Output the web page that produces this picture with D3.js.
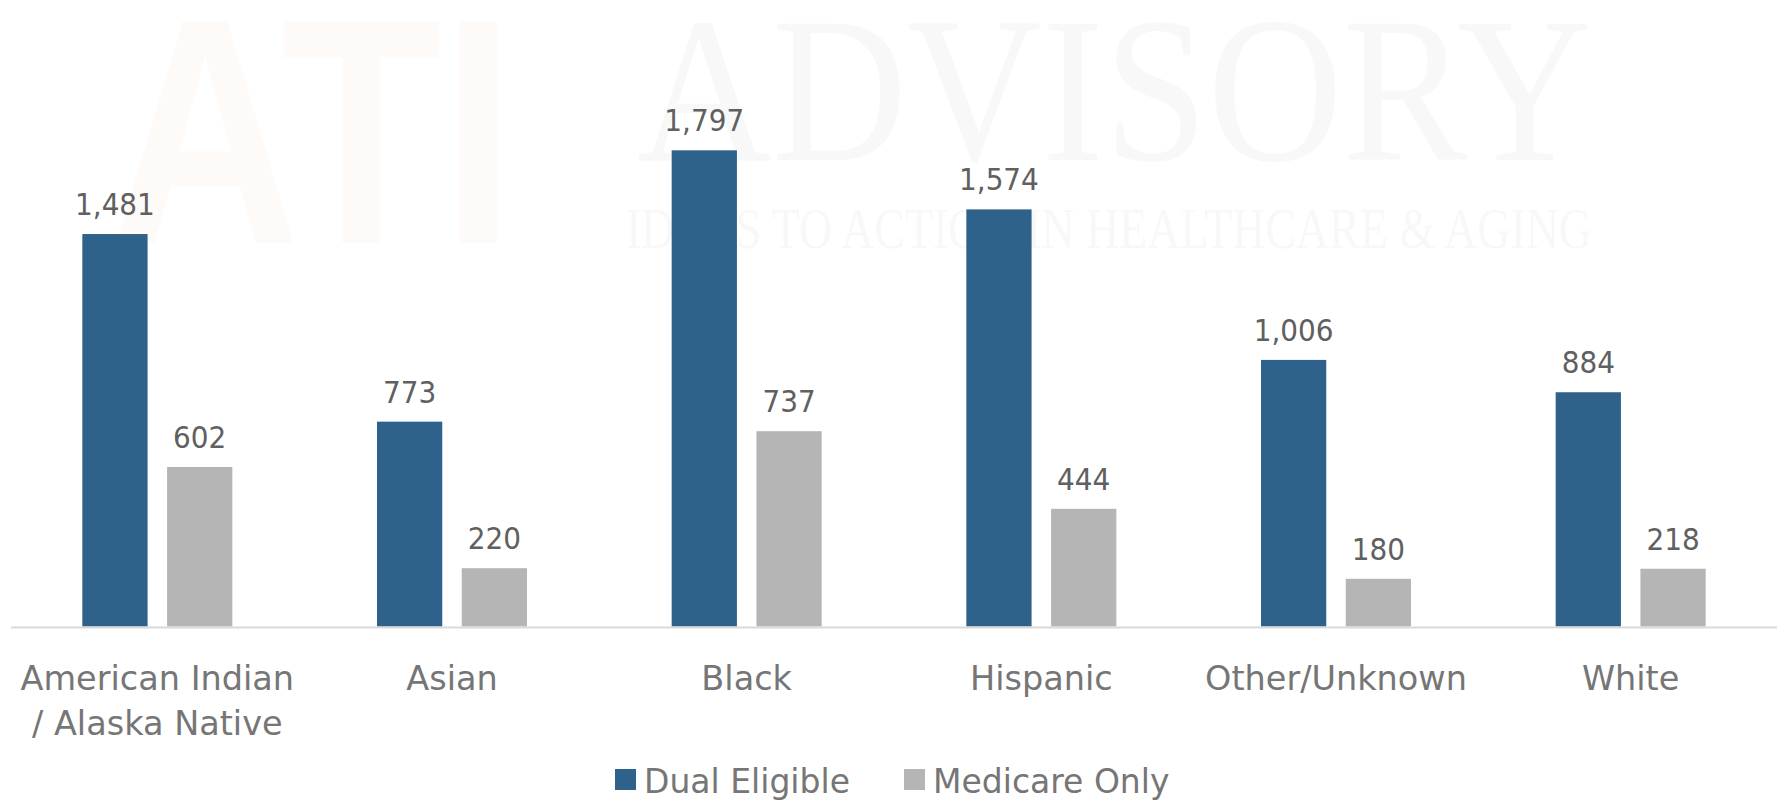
<!DOCTYPE html>
<html>
<head>
<meta charset="utf-8">
<script src="https://cdn.jsdelivr.net/npm/d3@7"></script>
<style>
  body { margin: 0; background: #fff; }
  svg { display: block; }
</style>
</head>
<body>
<svg id="chart" width="1783" height="802"></svg>
<script>
const width = 1783;
const height = 802;
const svg = d3.select("#chart");

// data
const categories = ["American Indian / Alaska Native", "Asian", "Black", "Hispanic", "Other/Unknown", "White"];
const categoryLines = [["American Indian", "/ Alaska Native"], ["Asian"], ["Black"], ["Hispanic"], ["Other/Unknown"], ["White"]];
const series = ["Dual Eligible", "Medicare Only"];
const dualEligible = [1481, 773, 1797, 1574, 1006, 884];
const medicareOnly = [602, 220, 737, 444, 180, 218];
const colors = ["#2f628b", "#b5b5b5"];

const rows = categories.map((c, i) => ({
  category: c,
  values: [
    { key: series[0], value: dualEligible[i] },
    { key: series[1], value: medicareOnly[i] }
  ]
}));

const baseline = 626.5;

// faint watermark
svg.append("text")
  .attr("x", 110).attr("y", 243)
  .attr("font-family", "Liberation Sans, Arial, sans-serif")
  .attr("font-weight", "bold")
  .attr("font-size", 322)
  .attr("textLength", 405)
  .attr("lengthAdjust", "spacingAndGlyphs")
  .attr("fill", "#fefaf8")
  .text("ATI");

svg.append("text")
  .attr("x", 637).attr("y", 160)
  .attr("font-family", "Liberation Serif, Times New Roman, serif")
  .attr("font-size", 207)
  .attr("textLength", 955)
  .attr("lengthAdjust", "spacingAndGlyphs")
  .attr("fill", "#f8f8f8")
  .text("ADVISORY");

svg.append("text")
  .attr("x", 626).attr("y", 248)
  .attr("font-family", "Liberation Serif, Times New Roman, serif")
  .attr("font-size", 57)
  .attr("textLength", 966)
  .attr("lengthAdjust", "spacingAndGlyphs")
  .attr("fill", "#f8f8f8")
  .text("IDEAS TO ACTION IN HEALTHCARE & AGING");

const x0 = d3.scaleBand()
  .domain(categories)
  .range([10, 1778]);

const bw = x0.bandwidth();
const x1 = d3.scaleBand()
  .domain(series)
  .range([bw / 2 - 75, bw / 2 + 75])
  .paddingInner(0.23);

const y = d3.scaleLinear()
  .domain([0, 2000])
  .range([baseline, baseline - 530]);

const color = d3.scaleOrdinal().domain(series).range(colors);

const groups = svg.append("g")
  .selectAll("g")
  .data(rows)
  .join("g")
  .attr("transform", d => `translate(${x0(d.category)},0)`);

groups.selectAll("rect")
  .data(d => d.values)
  .join("rect")
  .attr("x", d => x1(d.key))
  .attr("y", d => y(d.value))
  .attr("width", x1.bandwidth())
  .attr("height", d => baseline - y(d.value))
  .attr("fill", d => color(d.key));

groups.selectAll("text.value")
  .data(d => d.values)
  .join("text")
  .attr("class", "value")
  .attr("x", d => x1(d.key) + x1.bandwidth() / 2)
  .attr("y", d => y(d.value) - 19)
  .attr("text-anchor", "middle")
  .attr("font-family", "DejaVu Sans Condensed, DejaVu Sans, sans-serif")
  .attr("font-stretch", "condensed")
  .attr("font-size", 31)
  .attr("fill", "#606060")
  .text(d => d3.format(",")(d.value));

// axis line
svg.append("line")
  .attr("x1", 11).attr("x2", 1777)
  .attr("y1", baseline + 1).attr("y2", baseline + 1)
  .attr("stroke", "#d9d9d9")
  .attr("stroke-width", 2);

// category labels
svg.append("g")
  .selectAll("text")
  .data(categories)
  .join("text")
  .attr("x", d => x0(d) + bw / 2)
  .attr("y", 690)
  .attr("text-anchor", "middle")
  .attr("font-family", "DejaVu Sans, Verdana, sans-serif")
  .attr("font-size", 33.5)
  .attr("fill", "#767676")
  .each(function(d, i) {
    const t = d3.select(this);
    categoryLines[i].forEach((line, j) => {
      t.append("tspan")
        .attr("x", x0(d) + bw / 2)
        .attr("dy", j === 0 ? 0 : 45)
        .text(line);
    });
  });

// legend
const legendX = [615, 904];
const legend = svg.append("g")
  .selectAll("g")
  .data(series)
  .join("g")
  .attr("transform", (d, i) => `translate(${legendX[i]},769)`);

legend.append("rect")
  .attr("width", 21).attr("height", 21)
  .attr("fill", d => color(d));

legend.append("text")
  .attr("x", 29).attr("y", 24)
  .attr("font-family", "DejaVu Sans, Verdana, sans-serif")
  .attr("font-size", 33)
  .attr("fill", "#767676")
  .text(d => d);
</script>
</body>
</html>
